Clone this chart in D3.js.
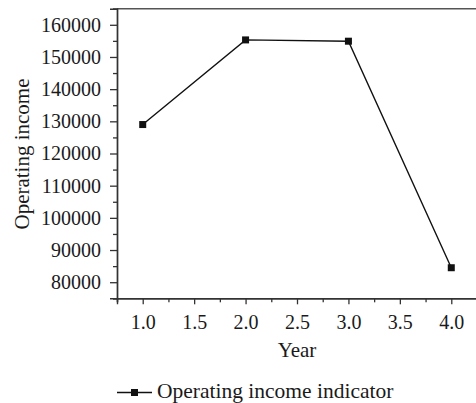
<!DOCTYPE html>
<html>
<head>
<meta charset="utf-8">
<script src="https://cdn.jsdelivr.net/npm/d3@7"></script>
<style>
  html, body { margin: 0; padding: 0; background: #fff; }
  svg { display: block; }
  text { font-family: "Liberation Serif", "Times New Roman", serif; fill: #1a1a1a; }
</style>
</head>
<body>
<svg id="chart" width="476" height="403"></svg>
<script>
// Operating income by year
const years = [1.0, 2.0, 3.0, 4.0];
const income = [129000, 155300, 154900, 84500];
const xTicks = [1.0, 1.5, 2.0, 2.5, 3.0, 3.5, 4.0];
const xMinorTicks = [0.75, 1.25, 1.75, 2.25, 2.75, 3.25, 3.75, 4.25];
const yTicks = [80000, 90000, 100000, 110000, 120000, 130000, 140000, 150000, 160000];
const yMinorTicks = [75000, 85000, 95000, 105000, 115000, 125000, 135000, 145000, 155000, 165000];
const seriesName = "Operating income indicator";
const xTitle = "Year";
const yTitle = "Operating income";

const serif = '"Liberation Serif", "Times New Roman", serif';
const svg = d3.select("#chart");
const x = d3.scaleLinear().domain([0.75, 4.25]).range([117, 477]);
const y = d3.scaleLinear().domain([75000, 165000]).range([298.3, 8.7]);

const axisColor = "#333";

// top frame line
svg.append("line")
  .attr("x1", x.range()[0]).attr("x2", x.range()[1])
  .attr("y1", y.range()[1]).attr("y2", y.range()[1])
  .attr("stroke", "#555").attr("stroke-width", 1.5);

// y axis: minor then major ticks
const gyMinor = svg.append("g").attr("transform", `translate(${x.range()[0]},0)`)
  .call(d3.axisLeft(y).tickValues(yMinorTicks).tickSize(4).tickFormat(""));
const gy = svg.append("g").attr("transform", `translate(${x.range()[0]},0)`)
  .call(d3.axisLeft(y).tickValues(yTicks).tickSize(7).tickPadding(9).tickFormat(d3.format("d")));

// x axis: minor then major ticks
const gxMinor = svg.append("g").attr("transform", `translate(0,${y.range()[0]})`)
  .call(d3.axisBottom(x).tickValues(xMinorTicks).tickSize(4).tickFormat(""));
const gx = svg.append("g").attr("transform", `translate(0,${y.range()[0]})`)
  .call(d3.axisBottom(x).tickValues(xTicks).tickSize(6).tickPadding(11).tickFormat(d3.format(".1f")));

[gyMinor, gy, gxMinor, gx].forEach(g => {
  g.attr("font-family", serif).attr("font-size", 20);
  g.select(".domain").attr("stroke", axisColor).attr("stroke-width", 1.4);
  g.selectAll(".tick line").attr("stroke", axisColor).attr("stroke-width", 1.3);
  g.selectAll(".tick text").attr("fill", "#1a1a1a");
});

// axis titles
svg.append("text")
  .attr("x", x(2.5)).attr("y", 356.5)
  .attr("text-anchor", "middle").attr("font-size", 21)
  .text(xTitle);

svg.append("text")
  .attr("transform", `translate(29,${(78 + 230) / 2}) rotate(-90)`)
  .attr("text-anchor", "middle").attr("font-size", 21)
  .text(yTitle);

// series line and markers
const data = years.map((d, i) => ({ x: d, y: income[i] }));
const line = d3.line().x(d => x(d.x)).y(d => y(d.y));
svg.append("path")
  .datum(data)
  .attr("d", line)
  .attr("fill", "none").attr("stroke", "#111").attr("stroke-width", 1.4);

const ms = 7;
svg.selectAll("rect.pt").data(data).enter().append("rect")
  .attr("class", "pt")
  .attr("x", d => x(d.x) - ms / 2).attr("y", d => y(d.y) - ms / 2)
  .attr("width", ms).attr("height", ms)
  .attr("fill", "#111");

// legend
const lg = svg.append("g").attr("transform", "translate(117,392.5)");
lg.append("line").attr("x1", 0).attr("x2", 35).attr("y1", 0).attr("y2", 0)
  .attr("stroke", "#111").attr("stroke-width", 1.4);
lg.append("rect").attr("x", 17.5 - ms / 2).attr("y", -ms / 2)
  .attr("width", ms).attr("height", ms).attr("fill", "#111");
lg.append("text").attr("x", 40).attr("y", 5).attr("font-size", 21.5)
  .text(seriesName);
</script>
</body>
</html>
